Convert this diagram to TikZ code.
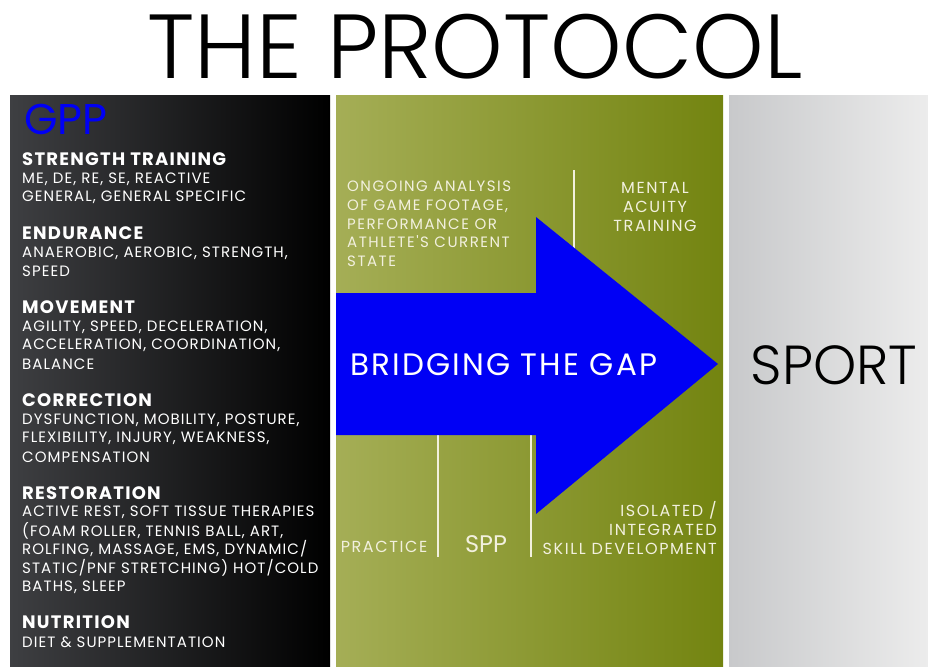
\documentclass[tikz,border=0pt]{standalone}
\usepackage{fontspec}
\setmainfont{Poppins}
\newfontfamily\thinfont{Poppins Light}
\newfontfamily\itemfont{Poppins}[LetterSpace=7]
\newfontfamily\midfont{Poppins}[LetterSpace=10]
\usepackage{tikz}
\usetikzlibrary{positioning}

\definecolor{gppleft}{RGB}{62,63,66}
\definecolor{oliveleft}{RGB}{165,174,86}
\definecolor{oliveright}{RGB}{115,132,16}
\definecolor{sportleft}{RGB}{200,201,203}
\definecolor{sportright}{RGB}{236,236,236}
\definecolor{gapblue}{RGB}{0,0,245}
\definecolor{cream}{RGB}{242,240,222}

\begin{document}
\begin{tikzpicture}[x=1pt,y=1pt]
            \tikzstyle{every node}+=[inner sep=0pt]
            \tikzstyle{head}=[anchor=west, text=white, font=\itemfont\bfseries\fontsize{18}{18}\selectfont]
            \tikzstyle{item}=[anchor=west, text=white, font=\itemfont\fontsize{15}{15}\selectfont]
            \tikzstyle{midtext}=[text=cream, font=\midfont\fontsize{16}{18.7}\selectfont]
            \tikzstyle{divider}=[cream, line width=1.5pt]
            \useasboundingbox (0,0) rectangle (928,-666);
            % panels
            \shade [left color=gppleft, right color=black] (10,-96) rectangle (330,-666);
            \shade [left color=oliveleft, right color=oliveright] (336,-96) rectangle (723,-666);
            \shade [left color=sportleft, right color=sportright] (729,-96) rectangle (928,-666);
            \draw (475,-47) node [font=\thinfont\fontsize{91}{91}\selectfont] (title) {THE PROTOCOL};
            % GPP column
            \draw (24,-119) node [anchor=west, text=gapblue, font=\fontsize{43}{43}\selectfont] (gpp) {GPP};
            \draw (22,-159) node [head] (strength) {STRENGTH TRAINING};
            \draw (22,-179) node [item] (strength1) {ME, DE, RE, SE, REACTIVE};
            \draw (22,-197) node [item] (strength2) {GENERAL, GENERAL SPECIFIC};
            \draw (22,-233) node [head] (endurance) {ENDURANCE};
            \draw (22,-253) node [item] (endurance1) {ANAEROBIC, AEROBIC, STRENGTH,};
            \draw (22,-271) node [item] (endurance2) {SPEED};
            \draw (22,-307) node [head] (movement) {MOVEMENT};
            \draw (22,-327) node [item] (movement1) {AGILITY, SPEED, DECELERATION,};
            \draw (22,-345) node [item] (movement2) {ACCELERATION, COORDINATION,};
            \draw (22,-364) node [item] (movement3) {BALANCE};
            \draw (22,-400) node [head] (correction) {CORRECTION};
            \draw (22,-420) node [item] (correction1) {DYSFUNCTION, MOBILITY, POSTURE,};
            \draw (22,-438) node [item] (correction2) {FLEXIBILITY, INJURY, WEAKNESS,};
            \draw (22,-457) node [item] (correction3) {COMPENSATION};
            \draw (22,-493) node [head] (restoration) {RESTORATION};
            \draw (22,-512) node [item] (restoration1) {ACTIVE REST, SOFT TISSUE THERAPIES};
            \draw (22,-531) node [item] (restoration2) {(FOAM ROLLER, TENNIS BALL, ART,};
            \draw (22,-549) node [item] (restoration3) {ROLFING, MASSAGE, EMS, DYNAMIC/};
            \draw (22,-568) node [item] (restoration4) {STATIC/PNF STRETCHING) HOT/COLD};
            \draw (22,-587) node [item] (restoration5) {BATHS, SLEEP};
            \draw (22,-622) node [head] (nutrition) {NUTRITION};
            \draw (22,-642) node [item] (nutrition1) {DIET \& SUPPLEMENTATION};
            % dividers
            \coordinate (d1top) at (574,-170);
            \coordinate (d1bot) at (574,-250);
            \coordinate (d2top) at (438,-430);
            \coordinate (d2bot) at (438,-557);
            \coordinate (d3top) at (531,-430);
            \coordinate (d3bot) at (531,-557);
            \draw [divider] (d1top) -- (d1bot);
            \draw [divider] (d2top) -- (d2bot);
            \draw [divider] (d3top) -- (d3bot);
            % arrow
            \fill [gapblue] (336,-293) -- (536,-293) -- (536,-217) -- (718,-364)
                -- (536,-514) -- (536,-435) -- (336,-435) -- cycle;
            \draw (350,-365) node [anchor=west, text=white, font=\itemfont\fontsize{31}{31}\selectfont] (bridge) {BRIDGING THE GAP};
            \draw (347,-224) node [anchor=west, midtext, font=\midfont\fontsize{15}{18.7}\selectfont, align=left] (analysis) {ONGOING ANALYSIS\\OF GAME FOOTAGE,\\PERFORMANCE OR\\ATHLETE'S CURRENT\\STATE};
            \draw (655,-207) node [midtext, align=center] (mental) {MENTAL\\ACUITY\\TRAINING};
            \draw (384,-547) node [midtext] (practice) {PRACTICE};
            \draw (486,-544) node [text=cream, font=\fontsize{24}{24}\selectfont] (spp) {SPP};
            \draw (717,-528) node [anchor=east, midtext, align=right] (skill) {ISOLATED /\\INTEGRATED\\SKILL DEVELOPMENT};
            % sport
            \draw (834,-365) node [font=\thinfont\fontsize{55}{55}\selectfont] (sport) {SPORT};
            \end{tikzpicture}
\end{document}
